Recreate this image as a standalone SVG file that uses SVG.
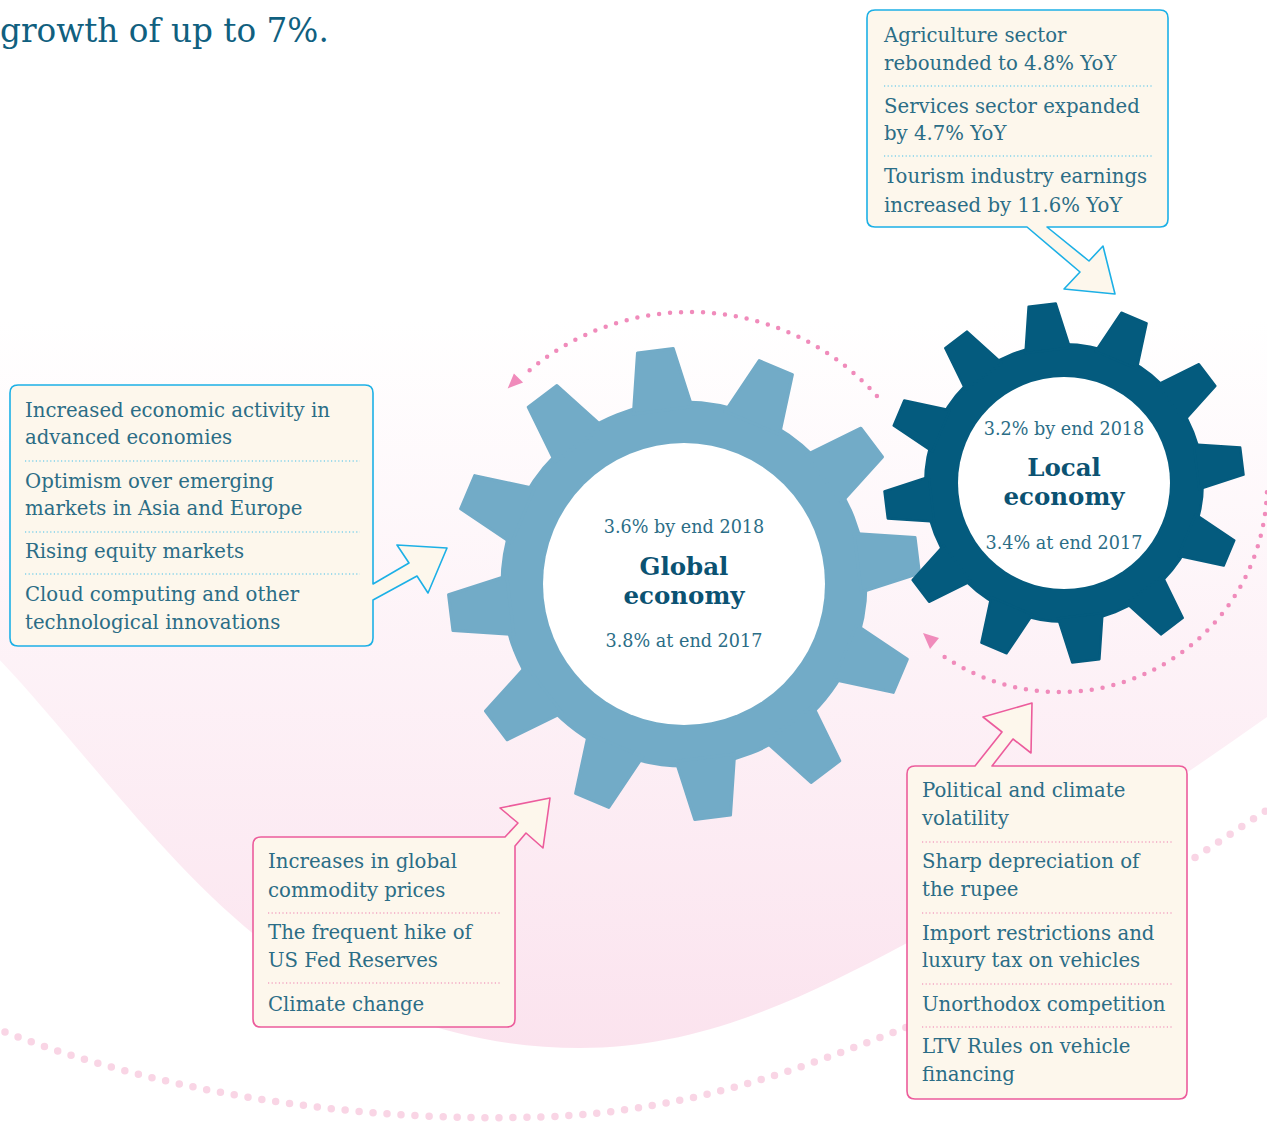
<svg xmlns="http://www.w3.org/2000/svg" xmlns:xlink="http://www.w3.org/1999/xlink" width="1267" height="1122" viewBox="0 0 1267 1122">
<style>
.t{font-family:"DejaVu Serif","Liberation Serif",serif;font-size:19.7px;fill:#2b6d86}
.g{font-family:"DejaVu Serif","Liberation Serif",serif;font-size:17.6px;fill:#2b6d86;text-anchor:middle}
.gb{font-family:"DejaVu Serif","Liberation Serif",serif;font-weight:bold;font-size:24.5px;fill:#0b5272;text-anchor:middle}
.h{font-family:"DejaVu Serif","Liberation Serif",serif;font-size:32.7px;fill:#10607f}
.boxc{fill:#fdf7ec;stroke:#1cb0e6;stroke-width:1.6;stroke-linejoin:round}
.boxp{fill:#fdf7ec;stroke:#ec5c9c;stroke-width:1.6;stroke-linejoin:round}
.sepc{stroke:#45c0ea;stroke-width:1.2;stroke-dasharray:1.2 2.4;fill:none}
.sepp{stroke:#ee7fb0;stroke-width:1.2;stroke-dasharray:1.2 2.4;fill:none}
.arc{fill:none;stroke:#f08bbb;stroke-width:4.5;stroke-linecap:round;stroke-dasharray:0 11}
.big{fill:none;stroke:#f9d5e5;stroke-width:7.5;stroke-linecap:round;stroke-dasharray:0 14}
</style>
<defs>
<linearGradient id="bg" gradientUnits="userSpaceOnUse" x1="0" y1="320" x2="0" y2="1050">
<stop offset="0" stop-color="#ffffff"/>
<stop offset="1" stop-color="#fbe3ee"/>
</linearGradient>
<polygon id="tooth" points="175,-29.5 235,-18 235,18 175,29.5"/>
<g id="gear">
<circle r="182"/>
<use xlink:href="#tooth" transform="rotate(-7)"/>
<use xlink:href="#tooth" transform="rotate(23)"/>
<use xlink:href="#tooth" transform="rotate(53)"/>
<use xlink:href="#tooth" transform="rotate(83)"/>
<use xlink:href="#tooth" transform="rotate(113)"/>
<use xlink:href="#tooth" transform="rotate(143)"/>
<use xlink:href="#tooth" transform="rotate(173)"/>
<use xlink:href="#tooth" transform="rotate(203)"/>
<use xlink:href="#tooth" transform="rotate(233)"/>
<use xlink:href="#tooth" transform="rotate(263)"/>
<use xlink:href="#tooth" transform="rotate(293)"/>
<use xlink:href="#tooth" transform="rotate(323)"/>
</g>
</defs>

<rect width="1267" height="1122" fill="#ffffff"/>
<path d="M-10,650 C80,740 200,920 330,985 C420,1030 500,1048 580,1048 C700,1048 800,1000 907,943 C1020,885 1150,800 1267,717 V320 H-10 Z" fill="url(#bg)"/>
<path class="big" d="M5,1032 C180,1100 380,1122 540,1117 C700,1112 820,1060 900,1030 C1000,990 1130,900 1267,810"/>

<text class="h" x="0" y="42">growth of up to 7%.</text>

<g id="global-gear">
<use xlink:href="#gear" transform="translate(684,584)" fill="#72abc7" stroke="#72abc7" stroke-width="3" stroke-linejoin="round"/>
<circle cx="684" cy="584" r="141" fill="#ffffff"/>
<text class="g" x="684" y="533">3.6% by end 2018</text>
<text class="gb" x="684" y="575">Global</text>
<text class="gb" x="684" y="604">economy</text>
<text class="g" x="684" y="647">3.8% at end 2017</text>
</g>

<g id="local-gear">
<use xlink:href="#gear" transform="translate(1064,483) scale(0.763)" fill="#045b7e" stroke="#045b7e" stroke-width="3" stroke-linejoin="round"/>
<circle cx="1064" cy="483" r="106" fill="#ffffff"/>
<text class="g" x="1064" y="435">3.2% by end 2018</text>
<text class="gb" x="1064" y="476">Local</text>
<text class="gb" x="1064" y="505">economy</text>
<text class="g" x="1064" y="549">3.4% at end 2017</text>
</g>

<g id="connectors">
<path class="arc" d="M876.9,396 A250,250 0 0 0 526,373.3"/>
<polygon points="507.7,388.4 513.9,373.4 523.1,382.6" fill="#f08bbb"/>
<path class="arc" d="M1266.9,492.2 A207,207 0 0 1 938.3,652.5"/>
<polygon points="923,633 939,638 930,649" fill="#f08bbb"/>
</g>

<g id="box-local-growth">
<path class="boxc" d="M875,10 H1160 Q1168,10 1168,18 V219 Q1168,227 1160,227 H1047 L1089,261 L1103,246 L1115,294 L1064,289 L1080,272 L1027,227 H875 Q867,227 867,219 V18 Q867,10 875,10 Z"/>
<text class="t" x="884" y="42">Agriculture sector</text>
<text class="t" x="884" y="70">rebounded to 4.8% YoY</text>
<line class="sepc" x1="884" y1="86" x2="1152" y2="86"/>
<text class="t" x="884" y="113">Services sector expanded</text>
<text class="t" x="884" y="140">by 4.7% YoY</text>
<line class="sepc" x1="884" y1="156" x2="1152" y2="156"/>
<text class="t" x="884" y="183">Tourism industry earnings</text>
<text class="t" x="884" y="212">increased by 11.6% YoY</text>
</g>

<g id="box-global-drivers">
<path class="boxc" d="M18,385 H365 Q373,385 373,393 V584 L409,563 L397,545 L447,548 L428,593 L417,576 L373,600 V638 Q373,646 365,646 H18 Q10,646 10,638 V393 Q10,385 18,385 Z"/>
<text class="t" x="25" y="417">Increased economic activity in</text>
<text class="t" x="25" y="444">advanced economies</text>
<line class="sepc" x1="25" y1="461" x2="360" y2="461"/>
<text class="t" x="25" y="488">Optimism over emerging</text>
<text class="t" x="25" y="515">markets in Asia and Europe</text>
<line class="sepc" x1="25" y1="532" x2="360" y2="532"/>
<text class="t" x="25" y="558">Rising equity markets</text>
<line class="sepc" x1="25" y1="574" x2="360" y2="574"/>
<text class="t" x="25" y="601">Cloud computing and other</text>
<text class="t" x="25" y="629">technological innovations</text>
</g>

<g id="box-global-risks">
<path class="boxp" d="M261,837 H505 L518,823 L500,808 L550,798 L543,848 L526,833 L515,846 V1019 Q515,1027 507,1027 H261 Q253,1027 253,1019 V845 Q253,837 261,837 Z"/>
<text class="t" x="268" y="868">Increases in global</text>
<text class="t" x="268" y="897">commodity prices</text>
<line class="sepp" x1="268" y1="913" x2="500" y2="913"/>
<text class="t" x="268" y="939">The frequent hike of</text>
<text class="t" x="268" y="967">US Fed Reserves</text>
<line class="sepp" x1="268" y1="983" x2="500" y2="983"/>
<text class="t" x="268" y="1011">Climate change</text>
</g>

<g id="box-local-risks">
<path class="boxp" d="M915,766 H975 L1002,732 L983,717 L1032,703 L1031,753 L1013,739 L992,766 H1179 Q1187,766 1187,774 V1091 Q1187,1099 1179,1099 H915 Q907,1099 907,1091 V774 Q907,766 915,766 Z"/>
<text class="t" x="922" y="797">Political and climate</text>
<text class="t" x="922" y="825">volatility</text>
<line class="sepp" x1="922" y1="842" x2="1173" y2="842"/>
<text class="t" x="922" y="868">Sharp depreciation of</text>
<text class="t" x="922" y="896">the rupee</text>
<line class="sepp" x1="922" y1="913" x2="1173" y2="913"/>
<text class="t" x="922" y="940">Import restrictions and</text>
<text class="t" x="922" y="967">luxury tax on vehicles</text>
<line class="sepp" x1="922" y1="984" x2="1173" y2="984"/>
<text class="t" x="922" y="1011">Unorthodox competition</text>
<line class="sepp" x1="922" y1="1027" x2="1173" y2="1027"/>
<text class="t" x="922" y="1053">LTV Rules on vehicle</text>
<text class="t" x="922" y="1081">financing</text>
</g>
</svg>
